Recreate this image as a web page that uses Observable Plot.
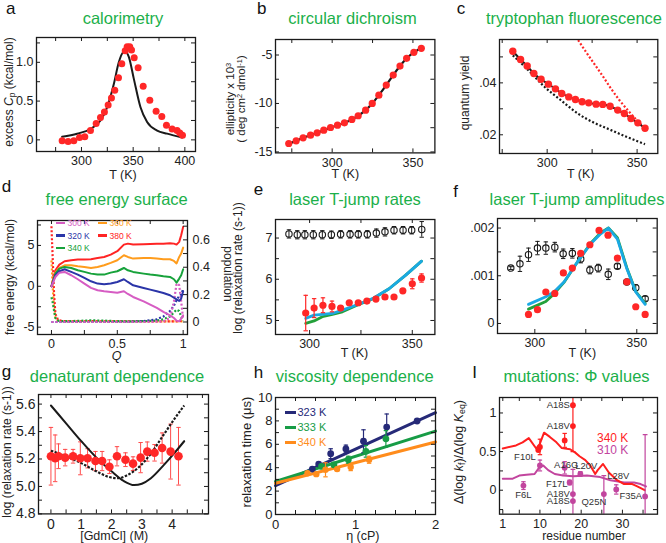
<!DOCTYPE html>
<html><head><meta charset="utf-8">
<script src="https://cdn.jsdelivr.net/npm/d3@7"></script>
<script src="https://cdn.jsdelivr.net/npm/@observablehq/plot@0.6"></script>
<style>
html,body{margin:0;padding:0;background:#fff;}
#fig{position:relative;width:666px;height:543px;overflow:hidden;font-family:"Liberation Sans",Arial,Helvetica,sans-serif;}
#fig svg{position:absolute;max-width:none;overflow:visible;}
.t{position:absolute;white-space:nowrap;line-height:1;}
.t sub{font-size:70%;vertical-align:-0.25em;line-height:0;}
.t sup{font-size:65%;vertical-align:0.45em;line-height:0;}
</style></head><body><div id="fig"></div>
<script>
// ---------- DATA ----------
// a: calorimetry
const calT  = [281.3,287.1,292.6,298.1,303.2,308.7,314.2,318.4,322.2,325.8,329,332.2,335.8,339,342.3,344.2,346.7,348.4,351,354.8,359.7,366.1,372.2,377.7,382.2,387.7,392.5,395.1,397.7];
const calCp = [-0.01,-0.02,-0.01,0.03,0.04,0.12,0.21,0.29,0.36,0.45,0.54,0.64,0.80,0.98,1.15,1.20,1.20,1.16,1.06,0.93,0.69,0.51,0.37,0.30,0.19,0.14,0.12,0.09,0.06];
const calFitT  = [281.3,295.8,308.7,318.4,324.8,331.3,336.1,340.3,342.5,345.8,350.6,357.1,363.5,373.2,382.9,397.4];
const calFitCp = [0.04,0.08,0.14,0.25,0.42,0.72,1.0,1.13,1.14,1.07,0.79,0.42,0.23,0.12,0.08,0.03];
// b: circular dichroism
const cdT = [273.1,277.7,282.0,286.6,290.7,294.8,299.0,303.3,307.6,312.2,316.1,320.7,324.8,328.9,333.5,337.8,342.0,346.1,350.6,355.2];
const cdV = [-14.13,-13.86,-13.55,-13.27,-13.03,-12.76,-12.48,-12.24,-12.0,-11.65,-11.27,-10.69,-10.0,-9.14,-8.1,-7.07,-6.14,-5.34,-4.72,-4.31];
// c: tryptophan fluorescence
const fluT = [280.9,285.2,288.9,292.6,296.6,300.7,304.6,308.1,312.0,315.7,319.4,323.1,327.2,330.9,335.0,339.2,342.9,346.6,350.4,354.4];
const fluQ = [.0522,.0490,.0465,.0436,.0414,.0395,.0377,.0359,.0346,.0336,.0327,.0323,.0318,.0317,.0310,.0295,.0282,.0263,.0246,.0225];
const fluNatT = [280.9,289.2,298.5,307.7,317,326.2,335.5,344.8,354.4];
const fluNatQ = [.0506,.0451,.0385,.0333,.0282,.0246,.0218,.0190,.0164];
const fluUnfT = [316,321,326,331,335.5,340,344.8,349.6,354.4];
const fluUnfQ = [.0578,.0525,.0475,.0425,.0378,.0335,.0295,.0258,.0225];
// d: free energy surface
const feQ = [0,.03,.06,.1,.15,.2,.25,.3,.35,.4,.45,.5,.55,.58,.62,.7,.75,.8,.85,.9,.93,.95,.97,.985,1];
const fe380 = [0,1.96,2.65,3.06,3.18,3.27,3.27,3.31,3.47,3.59,3.88,4.29,5.10,5.22,5.10,5.14,5.18,5.22,5.22,5.27,5.22,5.10,5.43,6.24,7.27];
const fe360 = [0,1.67,2.24,2.57,2.57,2.45,2.37,2.24,2.37,2.57,2.86,3.18,3.80,3.59,3.39,3.47,3.47,3.39,3.31,3.31,3.10,2.80,3.59,4.0,4.73];
const fe340 = [0,1.55,2.16,2.37,2.24,1.96,1.76,1.55,1.43,1.43,1.67,1.84,2.24,1.96,1.76,1.55,1.43,1.35,1.22,1.14,0.86,0.45,0.94,1.35,2.08];
const fe320 = [0,1.35,1.84,2.08,1.76,1.43,1.02,0.61,0.33,0.24,0.33,0.53,0.86,0.53,0.12,-0.2,-0.41,-0.61,-0.82,-1.10,-1.40,-1.60,-1.80,-1.50,-0.61];
const fe300 = [0,1.14,1.67,1.76,1.35,0.86,0.33,-0.2,-0.49,-0.61,-0.69,-0.78,-0.61,-0.94,-1.31,-1.84,-2.24,-2.65,-3.14,-3.55,-3.88,-4.2,-4.29,-3.96,-3.55];
const popQ = [0,.01,.02,.03,.05,.08,.1,.2,.3,.4,.5,.6,.7,.8,.85,.9,.93,.95,.97,.985,1];
const pop380 = [.70,.45,.20,.06,.015,.008,.006,.005,.006,.005,.004,.004,.004,.004,.004,.004,.004,.005,.006,.008,.01];
const pop360 = [.45,.25,.10,.03,.01,.006,.005,.005,.006,.005,.004,.004,.004,.004,.004,.004,.004,.004,.004,.004,.004];
const pop340 = [.18,.14,.08,.03,.01,.006,.006,.008,.012,.01,.006,.005,.006,.01,.02,.04,.07,.09,.08,.04,.01];
const pop320 = [0,0,0,0,0,0,0,0,0,0,0,.002,.006,.02,.04,.08,.12,.16,.19,.2,.24];
const pop300 = [0,0,0,0,0,0,0,0,0,0,0,0,0,.002,.005,.03,.15,.28,.27,.15,.02];
// e: laser T-jump rates
const rateBlkT = [289.95,294.0,297.7,301.8,306.2,310.6,315.1,319.7,323.7,328.1,332.5,336.7,341.1,345.5,349.7,354.6];
const rateBlkV = [7.10,7.08,7.08,7.08,7.08,7.08,7.09,7.09,7.09,7.09,7.12,7.15,7.19,7.19,7.19,7.21];
const rateBlkE = [.1,.1,.1,.1,.1,.09,.09,.09,.09,.09,.1,.1,.09,.09,.09,.19];
const rateRedT = [298.1,302.2,306.5,310.9,315.1,319.3,323.7,327.9,332.3,336.7,341.1,345.4,350,354.5];
const rateRedV = [5.18,5.30,5.37,5.34,5.30,5.43,5.43,5.47,5.52,5.57,5.57,5.72,5.89,6.03];
const rateRedE = [.43,.23,.18,.13,.05,.04,.04,.04,.04,.04,.04,.05,.12,.1];
const rateSimT = [298.1,302.2,306.2,311.1,316,322.5,330.6,338.7,346.8,354.5];
const rateCyanV = [5.05,5.13,5.15,5.17,5.25,5.37,5.53,5.77,6.10,6.44];
const rateGreenV = [4.93,4.99,5.09,5.15,5.21,5.36,5.52,5.77,6.10,6.44];
// f: laser T-jump amplitudes
const ampBlkT = [288.2,292.7,296.9,301.3,305.4,309.8,313.9,318.4,322.5,327,331.1,336,340.5,345.1,349.5,354.1];
const ampBlkV = [.00116,.00125,.00144,.00158,.00158,.0016,.00146,.00147,.00135,.00112,.00116,.00103,.0012,.00087,.00075,.00052];
const ampBlkE = [.00003,.00016,.00014,.00014,.00013,.0001,.0001,.0001,.00008,.00008,.00008,.00011,.00005,.00005,.00006,.00005];
const ampRedT = [296.9,301.3,305.4,309.8,314,318.4,322.5,327,331.5,335.9,340.5,345.1,349.5,354.1];
const ampRedV = [.00019,.00029,.00066,.00063,.00106,.00116,.00147,.00165,.00195,.00185,.00137,.00087,.00035,.00019];
const ampSimT = [296.9,305.4,309.4,314.3,320.9,327.4,332.3,336.1,340.5,345.1,349.5,354.1];
const ampCyanV = [.0004,.00056,.00066,.00087,.00129,.00167,.00188,.002,.00177,.00115,.00066,.0004];
const ampGreenV = [.0003,.00046,.00062,.00086,.00129,.00168,.0019,.002,.0018,.00117,.00067,.00042];
// g: denaturant dependence
const gdmM = [0,0.14,0.25,0.47,0.73,0.97,1.21,1.47,1.69,1.93,2.18,2.46,2.71,2.96,3.18,3.42,3.67,3.95,4.21];
const gdmV = [5.22,5.205,5.22,5.21,5.22,5.205,5.205,5.185,5.185,5.144,5.22,5.195,5.166,5.21,5.254,5.245,5.28,5.254,5.22];
const gdmE = [.21,.17,.09,.06,.05,.12,.07,.07,.07,.05,.07,.05,.05,.11,.07,.06,.11,.2,.21];
const gdmFitM = [0,0.5,1.0,1.5,2.0,2.4,2.75,3.0,3.3,3.7,4.1,4.4];
const gdmFitV = [5.59,5.46,5.33,5.21,5.11,5.04,5.01,5.02,5.06,5.15,5.25,5.33];
const gdmSimM = [0,0.5,1.0,1.5,1.9,2.2,2.5,2.9,3.3,3.7,4.1,4.4];
const gdmSimV = [5.26,5.22,5.17,5.11,5.07,5.06,5.08,5.14,5.24,5.37,5.50,5.59];
// h: viscosity dependence
const vis323Eta = [0.46,0.54,0.69,0.88,1.10,1.39,1.77];
const vis323T   = [3.88,4.31,5.2,5.6,6.26,7.47,7.99];
const vis323E   = [.1,.1,.42,.33,.98,1.12,.08];
const vis333Eta = [0.575,0.73,0.91,1.13,1.38];
const vis333T   = [4.11,4.25,4.68,5.40,6.47];
const vis333E   = [.12,.2,.3,.5,.7];
const vis340Eta = [0.40,0.51,0.625,0.77,0.94,1.17];
const vis340T   = [3.53,3.45,3.82,3.88,4.05,4.68];
const vis340E   = [.1,.1,.6,.15,.3,.3];
const visFitEta = [0,2];
const visFit323 = [2.47,8.7];
const visFit333 = [2.82,7.13];
const visFit340 = [2.67,6.2];
// i: mutations, phi values
const phi340Res = [1,4.2,5.8,7.3,9.1,9.9,11.0,12.4,14.0,15.3,17.3,18.5,19.6,21.0,22.2,23.4,24.0,25.3,26.7,28.7,30.4,32.4,33.6,35.4];
const phi340Val = [.54,.58,.62,.675,.54,.59,.745,.69,.62,.545,.53,.49,.44,.39,.32,.21,.26,.34,.23,.13,.08,.08,.05,0];
const phi310Res = [1,3.4,5.0,6.7,8.7,9.9,10.8,12.0,13.6,15.6,18.1,21.4,24.6,27.1,30.4,32.8,34.4,35.7];
const phi310Val = [.15,.15,.19,.2,.21,.3,.32,.26,.21,.19,.18,.19,.17,.13,.1,.1,.08,.05];
const mut340Res = [9.6,10,16,18,18];
const mut340Val = [.52,.56,.645,1.1,.83];
const mut340Err = [0,.1,.09,0,0];
const mut310Res = [6,10,16,17.2,18,18,19.8,25.5,28.5,35.5];
const mut310Val = [.06,.32,.29,.1,-.05,-.14,.21,-.05,.01,-.08];
const mut310Err = [.05,.07,.08,.03,0,0,.03,0,.06,0];
const bar340Res = [18], bar340Lo = [.5], bar340Hi = [1.3];
const bar310Res = [18,25.5,35.5], bar310Lo = [-.4,-.4,-.4], bar310Hi = [.27,.19,.72];
const mutLabels   = ["A18S","A18V","F10L","A16G","L20V","F17L","A18V","A18S","Q25N","L28V","F35A","F6L"];
const mutLabelRes = [18,18,10,16,19.8,17.2,18,18,25.5,28.5,35.5,6];
const mutLabelVal = [1.1,.83,.56,.29,.21,.1,-.05,-.14,-.05,.01,-.08,.06];

// ---------- STYLE / HELPERS ----------
const FONT = '"Liberation Sans", Arial, Helvetica, sans-serif';
const INK = '#1a1a1a';
const RED = '#ff2727';
const TITLE = '#1bb04a';
const CYAN = '#1aa9e3';
const SIMGREEN = '#23a03a';
const fig = document.getElementById('fig');

const pts = (xs, ys, es) => xs.map((x, i) => ({x, y: ys[i], e: es ? es[i] : 0}));
const capSym = {draw(ctx, size) { const r = Math.sqrt(size / Math.PI); ctx.moveTo(-r, 0); ctx.lineTo(r, 0); }};
function errMarks(data, color, w = 1, cap = 2.2) {
  const d = data.filter(p => p.e > 0);
  return [
    Plot.ruleX(d, {x: 'x', y1: p => p.y - p.e, y2: p => p.y + p.e, stroke: color, strokeWidth: w}),
    Plot.dot(d, {x: 'x', y: p => p.y + p.e, symbol: capSym, r: cap, fill: 'none', stroke: color, strokeWidth: w}),
    Plot.dot(d, {x: 'x', y: p => p.y - p.e, symbol: capSym, r: cap, fill: 'none', stroke: color, strokeWidth: w})
  ];
}

function panel(c) {
  const [x1, y1, x2, y2] = c.frame;
  const ml = 46, mr = c.mr ?? 10, mt = 6, mb = 24;
  const W = x2 - x1, H = y2 - y1, tl = 4;
  const xm = c.xminor ?? c.xticks, ym = c.yminor ?? c.yticks, ymR = c.yminorR ?? ym;
  const fs = c.fs ?? 12.5;
  const marks = [
    ...c.marks,
    Plot.tickX(xm, {x: d => d, insetTop: H - tl, stroke: INK}),
    Plot.tickX(xm, {x: d => d, insetBottom: H - tl, stroke: INK}),
    Plot.tickY(ym, {y: d => d, insetRight: W - tl, stroke: INK}),
    Plot.tickY(ymR, {y: d => d, insetLeft: W - tl, stroke: INK}),
    Plot.axisX(c.xticks, {anchor: 'bottom', tickSize: 0, tickPadding: 5, tickFormat: c.xfmt ?? (d => String(d)), label: null}),
    Plot.axisY(c.yticks, {anchor: 'left', tickSize: 0, tickPadding: 3, tickFormat: c.yfmt ?? (d => String(d)), label: null}),
    ...(c.extra ?? []),
    Plot.frame({stroke: INK, strokeWidth: 1.3})
  ];
  const svg = Plot.plot({
    width: W + ml + mr, height: H + mt + mb,
    marginLeft: ml, marginRight: mr, marginTop: mt, marginBottom: mb,
    x: {domain: c.xdomain}, y: {domain: c.ydomain},
    style: {fontSize: fs + 'px', fontFamily: FONT, color: '#222', background: 'transparent', overflow: 'visible'},
    marks
  });
  svg.style.left = (x1 - ml) + 'px';
  svg.style.top = (y1 - mt) + 'px';
  fig.appendChild(svg);
}

function txt(html, x, y, o = {}) {
  const d = document.createElement('div');
  d.className = 't';
  d.innerHTML = html;
  const ax = o.anchor === 'start' ? '0' : o.anchor === 'end' ? '-100%' : '-50%';
  d.style.left = x + 'px';
  d.style.top = y + 'px';
  d.style.fontSize = (o.size || 12.5) + 'px';
  d.style.color = o.color || '#222';
  if (o.lh) d.style.lineHeight = o.lh;
  if (o.align) d.style.textAlign = o.align;
  d.style.transform = `translate(${ax},-50%) rotate(${o.rot || 0}deg)`;
  fig.appendChild(d);
}
function base(html, x, baseline, size, color, anchor) {
  const d = document.createElement('div');
  d.className = 't';
  d.innerHTML = html;
  d.style.left = x + 'px';
  d.style.top = Math.max(0, baseline - 0.8465 * size) + 'px';
  d.style.fontSize = size + 'px';
  d.style.color = color;
  if (anchor === 'middle') d.style.transform = 'translateX(-50%)';
  fig.appendChild(d);
}
function seg(x1, x2, y, color, h = 2) {
  const d = document.createElement('div');
  d.style.cssText = `position:absolute;left:${x1}px;top:${y - h / 2}px;width:${x2 - x1}px;height:${h}px;background:${color};`;
  fig.appendChild(d);
}
const f1 = d => d === 0 ? '0' : d.toFixed(1);
const fdot = n => d => d === 0 ? '0' : d.toFixed(n).replace(/^0/, '').replace(/^-0/, '-');
const DOT = {strokeDasharray: '2,2', strokeLinecap: 'butt', strokeLinejoin: 'miter'};

// ---------- PANEL a ----------
panel({
  frame: [36, 37, 195, 151], xdomain: [256.5, 410.3], ydomain: [-0.15, 1.32],
  xticks: [300, 350, 400], xminor: [275, 300, 325, 350, 375, 400],
  yticks: [0, 0.5, 1], yminor: [0, .25, .5, .75, 1, 1.25], yfmt: f1,
  marks: [
    Plot.line(pts(calFitT, calFitCp), {x: 'x', y: 'y', stroke: INK, strokeWidth: 2, curve: 'monotone-x'}),
    Plot.dot(pts(calT, calCp), {x: 'x', y: 'y', r: 3.5, fill: RED})
  ]
});
// ---------- PANEL b ----------
panel({
  frame: [275.3, 39.3, 434.7, 152.7], xdomain: [264.9, 363.6], ydomain: [-15.1, -3.4],
  xticks: [300, 350], xminor: [275, 300, 325, 350],
  yticks: [-15, -10, -5], yminor: [-15, -12.5, -10, -7.5, -5],
  marks: [
    Plot.line(pts(cdT, cdV), {x: 'x', y: 'y', stroke: INK, strokeWidth: 2.2, curve: 'monotone-x'}),
    Plot.dot(pts(cdT, cdV), {x: 'x', y: 'y', r: 3.6, fill: RED})
  ]
});
// ---------- PANEL c ----------
panel({
  frame: [499, 39.3, 657.3, 153.3], xdomain: [273.5, 361.5], ydomain: [.0128, .0567],
  xticks: [300, 350], xminor: [275, 300, 325, 350],
  yticks: [.02, .04], yminor: [.02, .03, .04, .05], yfmt: fdot(2),
  marks: [
    Plot.line(pts(fluNatT, fluNatQ), {x: 'x', y: 'y', stroke: INK, strokeWidth: 2.2, ...DOT, curve: 'monotone-x'}),
    Plot.line(pts(fluUnfT, fluUnfQ), {x: 'x', y: 'y', stroke: RED, strokeWidth: 2.2, ...DOT, curve: 'monotone-x', clip: true}),
    Plot.line(pts(fluT, fluQ), {x: 'x', y: 'y', stroke: INK, strokeWidth: 2, curve: 'monotone-x'}),
    Plot.dot(pts(fluT, fluQ), {x: 'x', y: 'y', r: 3.7, fill: RED})
  ]
});
// ---------- PANEL d ----------
const POP0 = -4.37, POPK = 16.75;
const popMap = p => POP0 + POPK * p;
const dCol = {p300: '#d65cc3', p320: '#2b35a8', p340: '#17a23b', p360: '#ff9c1c', p380: '#ff2424'};
const popLine = (arr, col) => Plot.line(popQ.map((q, i) => ({x: q, y: popMap(arr[i])})), {x: 'x', y: 'y', stroke: col, strokeWidth: 2.2, ...DOT, clip: true});
const feLine = (arr, col) => Plot.line(pts(feQ, arr), {x: 'x', y: 'y', stroke: col, strokeWidth: 2});
panel({
  frame: [36.7, 220.3, 186.7, 334.3], xdomain: [-0.106, 1.033], ydomain: [-5.9, 8.05], mr: 40,
  xticks: [0, 0.5, 1], xminor: [0, .25, .5, .75, 1], xfmt: d => d === 0.5 ? '0.5' : String(d),
  yticks: [-5, 0, 5], yminor: [-5, -2.5, 0, 2.5, 5, 7.5],
  yminorR: [0, .1, .2, .3, .4, .5, .6, .7].map(popMap),
  marks: [
    popLine(pop360, dCol.p360), popLine(pop380, dCol.p380), popLine(pop340, dCol.p340),
    popLine(pop320, dCol.p320), popLine(pop300, dCol.p300),
    feLine(fe380, dCol.p380), feLine(fe360, dCol.p360), feLine(fe340, dCol.p340),
    feLine(fe320, dCol.p320), feLine(fe300, dCol.p300)
  ],
  extra: [
    Plot.axisY([0, .2, .4, .6].map(popMap), {anchor: 'right', tickSize: 0, tickPadding: 5, label: null,
      tickFormat: d => { const p = Math.round((d - POP0) / POPK * 10) / 10; return p === 0 ? '0' : p.toFixed(1); }})
  ]
});
// ---------- PANEL e ----------
const eBlk = pts(rateBlkT, rateBlkV, rateBlkE), eRed = pts(rateRedT, rateRedV, rateRedE);
panel({
  frame: [275.3, 219, 434.7, 334], xdomain: [283.4, 361], ydomain: [4.66, 7.45],
  xticks: [300, 350], xminor: [300, 325, 350],
  yticks: [5, 6, 7], yminor: [5, 5.5, 6, 6.5, 7],
  marks: [
    Plot.line(pts(rateSimT, rateGreenV), {x: 'x', y: 'y', stroke: SIMGREEN, strokeWidth: 2.8}),
    Plot.line(pts(rateSimT, rateCyanV), {x: 'x', y: 'y', stroke: CYAN, strokeWidth: 2.8}),
    ...errMarks(eRed, RED, 1.2),
    Plot.dot(eRed, {x: 'x', y: 'y', r: 3.6, fill: RED}),
    ...errMarks(eBlk, INK, 1),
    Plot.dot(eBlk, {x: 'x', y: 'y', r: 3.2, fill: 'none', stroke: INK, strokeWidth: 1.1})
  ]
});
// ---------- PANEL f ----------
const fBlk = pts(ampBlkT, ampBlkV, ampBlkE), fRed = pts(ampRedT, ampRedV);
panel({
  frame: [497.3, 218, 657, 333], xdomain: [281.7, 360], ydomain: [-.00021, .0022],
  xticks: [300, 350], xminor: [300, 325, 350],
  yticks: [0, .001, .002], yminor: [0, .0005, .001, .0015, .002], yfmt: fdot(3),
  marks: [
    ...errMarks(fBlk, INK, 1),
    Plot.dot(fBlk, {x: 'x', y: 'y', r: 3.2, fill: 'none', stroke: INK, strokeWidth: 1.1}),
    Plot.line(pts(ampSimT, ampGreenV), {x: 'x', y: 'y', stroke: SIMGREEN, strokeWidth: 2.8}),
    Plot.line(pts(ampSimT, ampCyanV), {x: 'x', y: 'y', stroke: CYAN, strokeWidth: 2.8}),
    Plot.dot(fRed, {x: 'x', y: 'y', r: 3.6, fill: RED})
  ]
});
// ---------- PANEL g ----------
const gPts = pts(gdmM, gdmV, gdmE);
panel({
  frame: [38.3, 394.3, 208.3, 513.7], xdomain: [-0.41, 5.2], ydomain: [4.8, 5.67], fs: 14,
  xticks: [0, 1, 2, 3, 4], xminor: [0, .5, 1, 1.5, 2, 2.5, 3, 3.5, 4, 4.5, 5],
  yticks: [4.8, 5.0, 5.2, 5.4, 5.6], yminor: [4.8, 4.9, 5.0, 5.1, 5.2, 5.3, 5.4, 5.5, 5.6], yfmt: d => d.toFixed(1),
  marks: [
    ...errMarks(gPts, '#ff4a4a', 1, 2.2),
    Plot.line(pts(gdmFitM, gdmFitV), {x: 'x', y: 'y', stroke: INK, strokeWidth: 2, curve: 'monotone-x'}),
    Plot.line(pts(gdmSimM, gdmSimV), {x: 'x', y: 'y', stroke: INK, strokeWidth: 2.2, strokeDasharray: '2.5,1.5', strokeLinecap: 'butt', curve: 'monotone-x'}),
    Plot.dot(gPts, {x: 'x', y: 'y', r: 4.3, fill: RED})
  ]
});
// ---------- PANEL h ----------
const hCol = {k323: '#262a78', k333: '#179c46', k340: '#ff8c1c'};
const h323 = pts(vis323Eta, vis323T, vis323E), h333 = pts(vis333Eta, vis333T, vis333E), h340 = pts(vis340Eta, vis340T, vis340E);
panel({
  frame: [275.3, 396.7, 435.3, 513.7], xdomain: [0, 2], ydomain: [0, 10], fs: 13,
  xticks: [0, 1, 2], xminor: [0, .25, .5, .75, 1, 1.25, 1.5, 1.75, 2],
  yticks: [0, 2, 4, 6, 8, 10], yminor: [0, 1, 2, 3, 4, 5, 6, 7, 8, 9, 10],
  marks: [
    Plot.line(pts(visFitEta, visFit323), {x: 'x', y: 'y', stroke: hCol.k323, strokeWidth: 3}),
    Plot.line(pts(visFitEta, visFit333), {x: 'x', y: 'y', stroke: hCol.k333, strokeWidth: 3}),
    Plot.line(pts(visFitEta, visFit340), {x: 'x', y: 'y', stroke: hCol.k340, strokeWidth: 3}),
    ...errMarks(h323, hCol.k323, 1.2), Plot.dot(h323, {x: 'x', y: 'y', r: 3.4, fill: hCol.k323}),
    ...errMarks(h333, hCol.k333, 1.2), Plot.dot(h333, {x: 'x', y: 'y', r: 3.4, fill: hCol.k333}),
    ...errMarks(h340, hCol.k340, 1.2), Plot.dot(h340, {x: 'x', y: 'y', r: 3.2, fill: hCol.k340})
  ]
});
// ---------- PANEL i ----------
const MAG = '#c2459e', IRED = '#ff1f1f';
const iRed = pts(mut340Res, mut340Val, mut340Err), iMag = pts(mut310Res, mut310Val, mut310Err);
const labelStyle = [
  ['end', -3, 0], ['end', -3, 0], ['middle', -15, 9.5], ['middle', 1.5, -2.5], ['middle', 6, -8.5], ['end', -2, 1.3],
  ['end', -3, 0], ['end', -3, 0], ['middle', -10, 8], ['middle', 2, -14], ['end', -3, 0], ['middle', 0, 9]
];
const barMarks = (res, lo, hi, col) => {
  const d = res.map((r, i) => ({x: r, lo: lo[i], hi: hi[i]}));
  return [
    Plot.ruleX(d, {x: 'x', y1: 'lo', y2: 'hi', stroke: col, strokeWidth: 1.2, clip: true}),
    Plot.dot(d, {x: 'x', y: 'hi', symbol: capSym, r: 2.4, fill: 'none', stroke: col, strokeWidth: 1.2, clip: true}),
    Plot.dot(d, {x: 'x', y: 'lo', symbol: capSym, r: 2.4, fill: 'none', stroke: col, strokeWidth: 1.2, clip: true})
  ];
};
panel({
  frame: [499, 397, 657, 513.7], xdomain: [0.2, 38.5], ydomain: [-0.31, 1.2],
  xticks: [1, 10, 20, 30], xminor: [1, 5, 10, 15, 20, 25, 30, 35],
  yticks: [0, 0.5, 1], yminor: [-.25, 0, .25, .5, .75, 1], yfmt: d => d === 0.5 ? '0.5' : String(d),
  marks: [
    Plot.line(pts(phi310Res, phi310Val), {x: 'x', y: 'y', stroke: MAG, strokeWidth: 2}),
    Plot.line(pts(phi340Res, phi340Val), {x: 'x', y: 'y', stroke: IRED, strokeWidth: 2}),
    ...barMarks(bar310Res, bar310Lo, bar310Hi, MAG),
    ...barMarks(bar340Res, bar340Lo, bar340Hi, IRED),
    ...errMarks(iMag, MAG, 1.2), Plot.dot(iMag, {x: 'x', y: 'y', r: 2.9, fill: MAG}),
    ...errMarks(iRed, IRED, 1.2), Plot.dot(iRed, {x: 'x', y: 'y', r: 2.9, fill: IRED}),
    ...mutLabels.map((s, i) => Plot.text([i], {
      x: j => mutLabelRes[j], y: j => mutLabelVal[j], text: j => mutLabels[j],
      textAnchor: labelStyle[i][0], dx: labelStyle[i][1], dy: labelStyle[i][2],
      fontSize: 9.5, fill: '#333'
    }))
  ]
});

// ---------- TEXT ----------
const L = 17;
[['a', 6, 14.5], ['b', 257, 14.5], ['c', 456.7, 14], ['d', 1.7, 192.7], ['e', 253.7, 195], ['f', 453.3, 197],
 ['g', 1.7, 377], ['h', 253.7, 378], ['I', 472.3, 378.7]].forEach(([s, x, b]) => base(s, x, b, L, '#111'));
const TS = 16.5;
[['calorimetry', 123, 23.5], ['circular dichroism', 352.5, 23.5], ['tryptophan fluorescence', 574, 23.5],
 ['free energy surface', 116.7, 205], ['laser T-jump rates', 355, 205], ['laser T-jump amplitudes', 577, 205],
 ['denaturant dependence', 117, 382], ['viscosity dependence', 354.7, 382], ['mutations: Φ values', 576.5, 382]
].forEach(([s, x, b]) => base(s, x, b, TS, TITLE, 'middle'));

// axis labels
txt('excess <i>C</i><sub>p</sub> (kcal/mol)', 9, 92, {rot: -90, size: 12});
txt('T (K)', 123, 174.5);
txt('ellipticity x 10<sup>3</sup><br>( deg cm<sup>2</sup> dmol<sup>-1</sup>)', 236, 99, {rot: -90, size: 11.5, lh: '11px', align: 'center'});
txt('T (K)', 345.3, 173.5);
txt('quantum yield', 465.3, 93.3, {rot: -90, size: 12});
txt('T (K)', 580.7, 173.5);
txt('free energy (kcal/mol)', 9.5, 276.8, {rot: -90, size: 12});
txt('population', 228, 274.3, {rot: 90, size: 12});
txt('<i>Q</i>', 116.7, 355.5);
txt('log (relaxation rate (s-1))', 238.2, 268, {rot: -90, size: 12});
txt('T (K)', 354.5, 353);
txt('T (K)', 582.3, 353);
txt('log (relaxation rate (s-1))', 7, 452, {rot: -90, size: 12});
txt('[GdmCl] (M)', 114.2, 535.5);
txt('relaxation time (μs)', 246, 452, {rot: -90, size: 13});
txt('η (cP)', 362.8, 535.5);
txt('Δ(log <i>k</i><sub>f</sub>)/Δ(log <i>K</i><sub>eq</sub>)', 459.3, 452, {rot: -90, size: 12.5});
txt('residue number', 584, 535.5, {size: 12});

// legend d
[['300 K', dCol.p300, 56, 222.7], ['360 K', dCol.p360, 98, 222.7], ['320 K', dCol.p320, 56, 235.5],
 ['380 K', dCol.p380, 98, 235.5], ['340 K', dCol.p340, 56, 248.3]].forEach(([s, col, x, y]) => {
  seg(x, x + 9, y, col, 2.2);
  txt(s, x + 11.5, y, {anchor: 'start', size: 8.5, color: col});
});
// legend h
[['323 K', hCol.k323, 412], ['333 K', hCol.k333, 427], ['340 K', hCol.k340, 442]].forEach(([s, col, y]) => {
  seg(285.3, 296, y, col, 3);
  txt(s, 297.5, y, {anchor: 'start', size: 11, color: col});
});
// legend i
txt('340 K', 597, 437.5, {anchor: 'start', size: 12, color: IRED});
txt('310 K', 597, 449.5, {anchor: 'start', size: 12, color: MAG});
</script></body></html>
